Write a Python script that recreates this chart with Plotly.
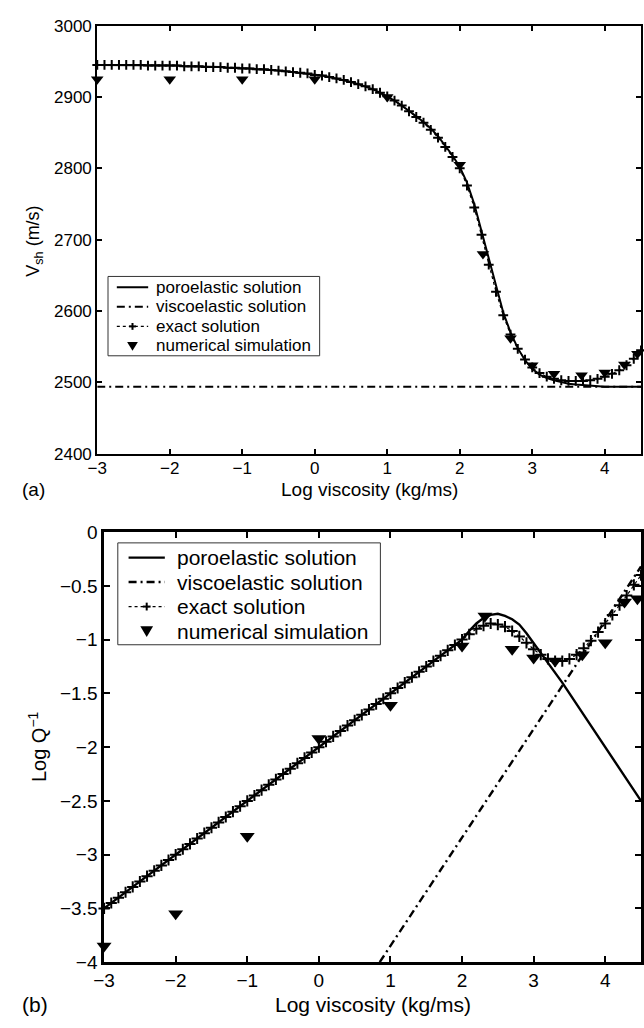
import plotly.graph_objects as go

# ---------------- data ----------------
LOG_VISC = [-3.0, -2.9, -2.8, -2.7, -2.6, -2.5, -2.4, -2.3, -2.2, -2.1,
            -2.0, -1.9, -1.8, -1.7, -1.6, -1.5, -1.4, -1.3, -1.2, -1.1,
            -1.0, -0.9, -0.8, -0.7, -0.6, -0.5, -0.4, -0.3, -0.2, -0.1,
            0.0, 0.1, 0.2, 0.3, 0.4, 0.5, 0.6, 0.7, 0.8, 0.9,
            1.0, 1.1, 1.2, 1.3, 1.4, 1.5, 1.6, 1.7, 1.8, 1.9,
            2.0, 2.1, 2.2, 2.3, 2.4, 2.5, 2.6, 2.7, 2.8, 2.9,
            3.0, 3.1, 3.2, 3.3, 3.4, 3.5, 3.6, 3.7, 3.8, 3.9,
            4.0, 4.1, 4.2, 4.3, 4.4, 4.5]

# (a) shear velocity (m/s)
TOP_EXACT = [2945, 2945, 2945, 2945, 2945, 2945, 2945, 2944, 2944, 2944,
             2944, 2944, 2943, 2943, 2943, 2942, 2942, 2942, 2941, 2941,
             2940, 2940, 2939, 2939, 2938, 2937, 2936, 2935, 2934, 2933,
             2931, 2930, 2928, 2926, 2924, 2921, 2918, 2915, 2911, 2906,
             2901, 2895, 2888, 2880, 2872, 2864, 2854, 2843, 2830, 2816,
             2800, 2776, 2745, 2707, 2665, 2627, 2594, 2567, 2547, 2532,
             2521, 2513, 2508, 2505, 2503, 2502, 2502, 2502, 2503, 2505,
             2508, 2512, 2517, 2524, 2533, 2545]
TOP_PORO = [2945, 2945, 2945, 2945, 2945, 2945, 2945, 2944, 2944, 2944,
            2944, 2944, 2943, 2943, 2943, 2942, 2942, 2942, 2941, 2941,
            2940, 2940, 2939, 2939, 2938, 2937, 2936, 2935, 2934, 2933,
            2931, 2930, 2928, 2926, 2924, 2921, 2918, 2915, 2911, 2906,
            2901, 2895, 2888, 2881, 2873, 2865, 2856, 2845, 2832, 2818,
            2802, 2780, 2750, 2712, 2672, 2633, 2598, 2570, 2548, 2531,
            2519, 2511, 2506, 2503, 2500, 2498, 2497, 2496, 2495, 2495,
            2494, 2494, 2494, 2494, 2494, 2494]
TOP_VISCO_X = [-3.0, 4.5]
TOP_VISCO = [2494, 2494]

SIM_X = [-3, -2, -1, 0, 1, 2, 2.32, 2.7, 3.0, 3.3, 3.68, 4.0, 4.27, 4.45]
TOP_SIM = [2925, 2925, 2925, 2925, 2900, 2805, 2680, 2562, 2524, 2512,
           2510, 2514, 2525, 2540]

# (b) log attenuation
BOT_EXACT = [-3.50, -3.45, -3.40, -3.35, -3.30, -3.25, -3.20, -3.15, -3.10, -3.05,
             -3.00, -2.95, -2.90, -2.85, -2.80, -2.75, -2.70, -2.65, -2.60, -2.55,
             -2.50, -2.45, -2.40, -2.35, -2.30, -2.25, -2.20, -2.15, -2.10, -2.05,
             -2.00, -1.95, -1.90, -1.85, -1.80, -1.75, -1.70, -1.65, -1.60, -1.55,
             -1.50, -1.45, -1.40, -1.35, -1.30, -1.25, -1.20, -1.15, -1.10, -1.05,
             -1.00, -0.95, -0.90, -0.87, -0.85, -0.86, -0.88, -0.92, -0.97, -1.03,
             -1.09, -1.14, -1.18, -1.20, -1.20, -1.18, -1.14, -1.08, -1.01, -0.93,
             -0.85, -0.77, -0.68, -0.59, -0.49, -0.40]
BOT_PORO = [-3.50, -3.45, -3.40, -3.35, -3.30, -3.25, -3.20, -3.15, -3.10, -3.05,
            -3.00, -2.95, -2.90, -2.85, -2.80, -2.75, -2.70, -2.65, -2.60, -2.55,
            -2.50, -2.45, -2.40, -2.35, -2.30, -2.25, -2.20, -2.15, -2.10, -2.05,
            -2.00, -1.95, -1.90, -1.85, -1.80, -1.75, -1.70, -1.65, -1.60, -1.55,
            -1.50, -1.45, -1.40, -1.35, -1.30, -1.25, -1.20, -1.15, -1.10, -1.05,
            -1.00, -0.92, -0.85, -0.80, -0.77, -0.76, -0.78, -0.81, -0.86, -0.94,
            -1.03, -1.12, -1.21, -1.31, -1.40, -1.50, -1.60, -1.70, -1.80, -1.90,
            -2.00, -2.10, -2.20, -2.30, -2.40, -2.50]
BOT_VISCO_X = [0.85, 4.5]
BOT_VISCO = [-4.0, -0.32]
BOT_SIM = [-3.85, -3.55, -2.83, -1.92, -1.61, -1.06, -0.78, -1.09, -1.17, -1.20,
           -1.14, -1.03, -0.65, -0.62]

X_TICKS = [-3, -2, -1, 0, 1, 2, 3, 4]

NAMES = ["poroelastic solution", "viscoelastic solution", "exact solution",
         "numerical simulation"]

FONT = "Liberation Sans, Arial, Helvetica, sans-serif"
W, H = 644, 1028
DASHDOT = "8px,4px,2px,4px"


def px_x(p):
    return p / W


def px_y(p):
    return (H - p) / H


# ---------------- figure ----------------
fig = go.Figure()


def add_panel(xa, ya, poro, exact, vx, vy, sim, lw, msize, tsize):
    common = dict(xaxis=xa, yaxis=ya, cliponaxis=False, showlegend=False)
    fig.add_trace(go.Scatter(x=LOG_VISC, y=poro, mode="lines", name=NAMES[0],
                             line=dict(color="black", width=lw), **common))
    fig.add_trace(go.Scatter(x=vx, y=vy, mode="lines", name=NAMES[1],
                             line=dict(color="black", width=lw, dash=DASHDOT),
                             **common))
    fig.add_trace(go.Scatter(x=LOG_VISC, y=exact, mode="lines+markers",
                             name=NAMES[2],
                             line=dict(color="black", width=1.2, dash="dot"),
                             marker=dict(symbol="cross-thin", size=msize,
                                         line=dict(color="black", width=2)),
                             **common))
    fig.add_trace(go.Scatter(x=SIM_X, y=sim, mode="markers", name=NAMES[3],
                             marker=dict(symbol="triangle-down", size=tsize,
                                         color="black"), **common))


add_panel("x", "y", TOP_PORO, TOP_EXACT, TOP_VISCO_X, TOP_VISCO,
          TOP_SIM, 2, 7, 11)
add_panel("x2", "y2", BOT_PORO, BOT_EXACT, BOT_VISCO_X, BOT_VISCO,
          BOT_SIM, 2.4, 8, 13)

axis_common = dict(showline=True, linecolor="black", mirror="ticks",
                   ticks="inside", tickcolor="black", showgrid=False,
                   zeroline=False)

fig.update_layout(
    width=W, height=H,
    margin=dict(l=0, r=0, t=0, b=0),
    paper_bgcolor="white", plot_bgcolor="white",
    font=dict(family=FONT, color="black"),
    showlegend=False,
    xaxis=dict(axis_common, domain=[px_x(88), px_x(643)], range=[-3, 4.5],
               tickvals=X_TICKS, linewidth=2, ticklen=5, tickwidth=1.5,
               tickfont=dict(size=17), ticklabelstandoff=-2, anchor="y"),
    yaxis=dict(axis_common, domain=[px_y(453), px_y(16)], range=[2400, 3000],
               dtick=100, linewidth=2, ticklen=5, tickwidth=1.5,
               tickfont=dict(size=17), anchor="x"),
    xaxis2=dict(axis_common, domain=[px_x(95), px_x(643)], range=[-3, 4.5],
                tickvals=X_TICKS, linewidth=2.5, ticklen=6, tickwidth=2,
                tickfont=dict(size=19), ticklabelstandoff=-1, anchor="y2"),
    yaxis2=dict(axis_common, domain=[px_y(972), px_y(533)], range=[-4, 0],
                dtick=0.5, linewidth=2.5, ticklen=6, tickwidth=2,
                tickfont=dict(size=19), anchor="x2"),
)


# ---------------- legends (drawn in paper space) ----------------
def seg(x0, y0, x1, y1, width, dash="solid"):
    fig.add_shape(type="line", xref="paper", yref="paper", layer="above",
                  x0=px_x(x0), y0=px_y(y0), x1=px_x(x1), y1=px_y(y1),
                  line=dict(color="black", width=width, dash=dash))


def draw_legend(box, rows, gx0, gx1, tx, fsize, lw, cross, tri_w, tri_h):
    bx0, by0, bx1, by1 = box
    fig.add_shape(type="rect", xref="paper", yref="paper", layer="above",
                  x0=px_x(bx0), y0=px_y(by0), x1=px_x(bx1), y1=px_y(by1),
                  line=dict(color="#333333", width=1), fillcolor="white")
    gc = (gx0 + gx1) / 2
    # poroelastic
    seg(gx0, rows[0], gx1, rows[0], lw)
    # viscoelastic
    seg(gx0, rows[1], gx1, rows[1], lw, DASHDOT)
    # exact
    seg(gx0, rows[2], gx1, rows[2], 1.2, "dot")
    seg(gc - cross, rows[2], gc + cross, rows[2], 2)
    seg(gc, rows[2] - cross, gc, rows[2] + cross, 2)
    # numerical
    y = rows[3]
    path = "M {:.5f},{:.5f} L {:.5f},{:.5f} L {:.5f},{:.5f} Z".format(
        px_x(gc - tri_w / 2), px_y(y - tri_h * 0.45),
        px_x(gc + tri_w / 2), px_y(y - tri_h * 0.45),
        px_x(gc), px_y(y + tri_h * 0.55))
    fig.add_shape(type="path", xref="paper", yref="paper", layer="above",
                  path=path, fillcolor="black", line=dict(color="black", width=0))
    for name, ry in zip(NAMES, rows):
        fig.add_annotation(text=name, x=px_x(tx), y=px_y(ry), xref="paper",
                           yref="paper", showarrow=False, xanchor="left",
                           yanchor="middle",
                           font=dict(size=fsize, family=FONT, color="black"))


draw_legend((99, 272, 315, 353), [283, 303, 323, 343], 108, 140, 146, 17,
            2, 3.5, 11, 9)
draw_legend((109, 544, 377, 648), [559, 584, 609, 634], 120, 157, 167, 21,
            2.4, 4, 13, 11)

# ---------------- titles ----------------
annos = [
    dict(text="Log viscosity (kg/ms)", x=px_x(366), y=px_y(490), size=19, angle=0),
    dict(text="(a)", x=px_x(23), y=px_y(490), size=19, angle=0),
    dict(text="V<sub>sh</sub> (m/s)", x=px_x(24), y=px_y(236), size=18, angle=-90),
    dict(text="Log viscosity (kg/ms)", x=px_x(369), y=px_y(1015), size=21, angle=0),
    dict(text="(b)", x=px_x(24), y=px_y(1015), size=21, angle=0),
    dict(text="Log Q<sup>−1</sup>", x=px_x(27), y=px_y(752), size=20, angle=-90),
]
for a in annos:
    fig.add_annotation(text=a["text"], x=a["x"], y=a["y"], xref="paper",
                       yref="paper", showarrow=False, textangle=a["angle"],
                       xanchor="center", yanchor="middle",
                       font=dict(size=a["size"], family=FONT, color="black"))

fig.write_html("out.html")
